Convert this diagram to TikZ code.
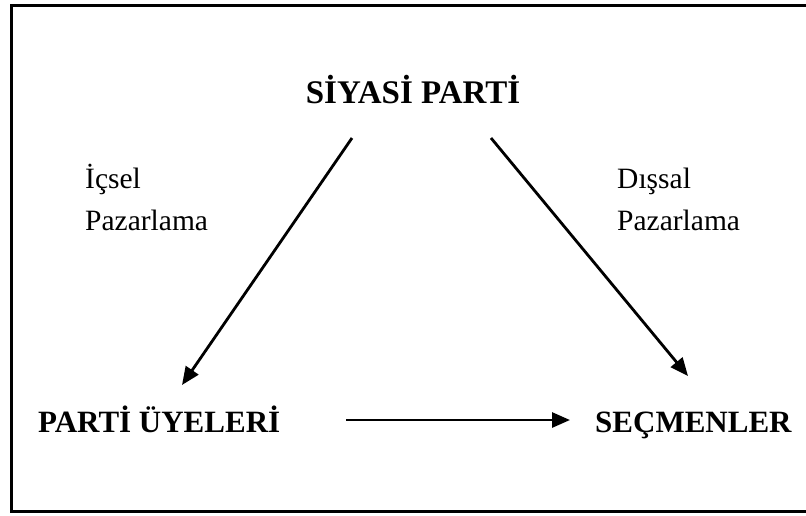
\documentclass[tikz,border=0pt]{standalone}
\usepackage{fontspec}
\setmainfont{Liberation Serif}
\usetikzlibrary{arrows.meta}
\begin{document}
\begin{tikzpicture}[x=1pt,y=-1pt,
  heading/.style={font=\fontsize{31}{36}\selectfont\bfseries, inner sep=0pt},
  flowlabel/.style={font=\fontsize{29.5}{36}\selectfont, inner sep=0pt},
  link/.style={line width=2.8pt, -{Triangle[length=18pt,width=15pt]}}]
\useasboundingbox (0,0) rectangle (806,515);
% frame (open on the right, where it runs past the page edge)
\draw[line width=3pt] (806,5) -- (11,5) -- (11,511) -- (806,511);

% actors
\node[heading, font=\fontsize{33}{38}\selectfont\bfseries, anchor=base] (party) at (413,103) {SİYASİ PARTİ};
\node[heading, anchor=base west] (members) at (38,432) {PARTİ ÜYELERİ};
\node[heading, anchor=base west] (voters) at (595,432) {SEÇMENLER};

% kinds of marketing
\node[flowlabel, anchor=base west] (inner1) at (85,188) {İçsel};
\node[flowlabel, anchor=base west] (inner2) at (85,230) {Pazarlama};
\node[flowlabel, anchor=base west] (outer1) at (617,188) {Dışsal};
\node[flowlabel, anchor=base west] (outer2) at (617,230) {Pazarlama};

% arrow end points
\coordinate (partyL) at (352,138);
\coordinate (partyR) at (491,138);
\coordinate (membersTop) at (182,385);
\coordinate (votersTop) at (688,376);
\coordinate (membersR) at (346,420);
\coordinate (votersL) at (570,420);

\draw[link] (partyL) -- (membersTop);
\draw[link] (partyR) -- (votersTop);
\draw[link] (membersR) -- (votersL);
\end{tikzpicture}
\end{document}
